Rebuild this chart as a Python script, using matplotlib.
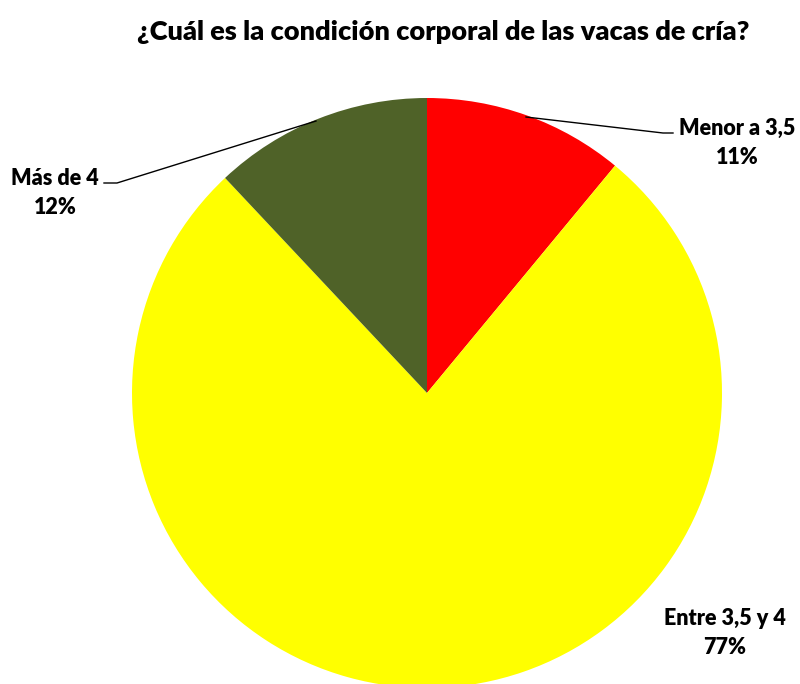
import matplotlib.pyplot as plt

# Data
labels = ["Menor a 3,5", "Entre 3,5 y 4", "Más de 4"]
values = [11, 77, 12]
colors = ["#FF0000", "#FFFF00", "#4F6228"]
title = "¿Cuál es la condición corporal de las vacas de cría?"

W, H = 800, 684
fig = plt.figure(figsize=(W / 100, H / 100), dpi=100)
ax = fig.add_axes([0, 0, 1, 1])

font = "Lato"

def py(y):
    # convert pixel row (top origin) to data y
    return H - y

ax.pie(values, colors=colors, startangle=90, counterclock=False,
       center=(427, py(393)), radius=295, frame=True,
       wedgeprops=dict(linewidth=0))
ax.set_xlim(0, W)
ax.set_ylim(0, H)
ax.set_aspect("equal")
ax.axis("off")

ax.text(443, py(32), title, ha="center", va="center", fontsize=19.5,
        fontweight="heavy", family=font)

# leader lines
ax.plot([526, 663, 673], [py(117), py(133), py(133)], color="black", lw=1)
ax.plot([316, 117, 104], [py(121), py(183), py(183)], color="black", lw=1)

lab_fs = 15.5
ax.text(737, py(143), f"{labels[0]}\n{values[0]}%", ha="center", va="center",
        fontsize=lab_fs, fontweight="heavy", family=font, linespacing=1.45)
ax.text(725, py(633), f"{labels[1]}\n{values[1]}%", ha="center", va="center",
        fontsize=lab_fs, fontweight="heavy", family=font, linespacing=1.45)
ax.text(55, py(193), f"{labels[2]}\n{values[2]}%", ha="center", va="center",
        fontsize=lab_fs, fontweight="heavy", family=font, linespacing=1.45)

fig.savefig("out.png", dpi=100, facecolor="white")
